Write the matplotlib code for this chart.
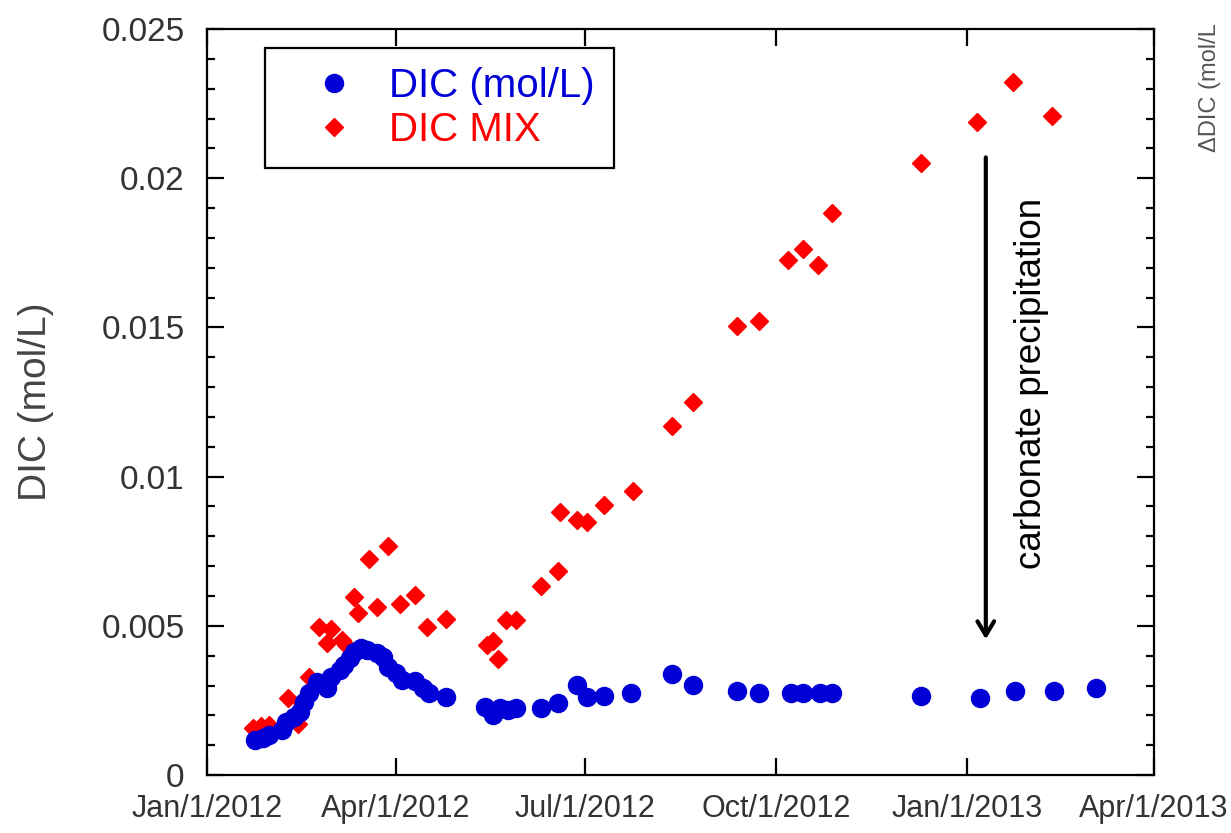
import matplotlib
matplotlib.use("Agg")
import matplotlib.pyplot as plt
import matplotlib.dates as mdates
from matplotlib.ticker import MultipleLocator, FixedLocator
import numpy as np
import pandas as pd

plt.rcParams['font.family'] = ['Liberation Sans', 'DejaVu Sans']

# Measured dissolved inorganic carbon
dic_dates = [
    "2012-01-24", "2012-01-28", "2012-01-31", "2012-02-06", "2012-02-08",
    "2012-02-12", "2012-02-15", "2012-02-17", "2012-02-19", "2012-02-23",
    "2012-02-28", "2012-03-01", "2012-03-05", "2012-03-07", "2012-03-10",
    "2012-03-12", "2012-03-15", "2012-03-18", "2012-03-23", "2012-03-26",
    "2012-03-28", "2012-04-01", "2012-04-04", "2012-04-10", "2012-04-14",
    "2012-04-17", "2012-04-25", "2012-05-14", "2012-05-18", "2012-05-21",
    "2012-05-25", "2012-05-29", "2012-06-10", "2012-06-18", "2012-06-27",
    "2012-07-02", "2012-07-10", "2012-07-23", "2012-08-12", "2012-08-22",
    "2012-09-12", "2012-09-23", "2012-10-08", "2012-10-14", "2012-10-22",
    "2012-10-28", "2012-12-10", "2013-01-07", "2013-01-24", "2013-02-12",
    "2013-03-04",
]
dic_values = [
    0.00117, 0.00124, 0.00134, 0.00151, 0.00178,
    0.00194, 0.00211, 0.00245, 0.00275, 0.00312,
    0.00292, 0.00328, 0.00352, 0.00369, 0.00392,
    0.00412, 0.00426, 0.00419, 0.00409, 0.00395,
    0.00362, 0.00342, 0.00318, 0.00315, 0.00292,
    0.00275, 0.00261, 0.00228, 0.00201, 0.00225,
    0.00218, 0.00225, 0.00225, 0.00241, 0.00302,
    0.00261, 0.00265, 0.00275, 0.00338, 0.00302,
    0.00281, 0.00275, 0.00275, 0.00275, 0.00275,
    0.00275, 0.00265, 0.00258, 0.00281, 0.00281,
    0.00292,
]

# Conservative mixing estimate
mix_dates = [
    "2012-01-23", "2012-01-27", "2012-01-31", "2012-02-06", "2012-02-09",
    "2012-02-14", "2012-02-16", "2012-02-19", "2012-02-24", "2012-02-28",
    "2012-03-01", "2012-03-06", "2012-03-08", "2012-03-12", "2012-03-14",
    "2012-03-19", "2012-03-23", "2012-03-28", "2012-04-03", "2012-04-10",
    "2012-04-16", "2012-04-25", "2012-05-15", "2012-05-18", "2012-05-20",
    "2012-05-24", "2012-05-29", "2012-06-10", "2012-06-18", "2012-06-19",
    "2012-06-27", "2012-07-02", "2012-07-10", "2012-07-24", "2012-08-12",
    "2012-08-22", "2012-09-12", "2012-09-23", "2012-10-07", "2012-10-14",
    "2012-10-21", "2012-10-28", "2012-12-10", "2013-01-06", "2013-01-23",
    "2013-02-11",
]
mix_values = [
    0.00158, 0.00164, 0.00168, 0.00154, 0.00258,
    0.00171, 0.00241, 0.00328, 0.00496, 0.00442,
    0.00489, 0.00452, 0.00436, 0.00597, 0.00543,
    0.00724, 0.00563, 0.00767, 0.00573, 0.00603,
    0.00496, 0.00523, 0.00436, 0.00449, 0.00389,
    0.00519, 0.00519, 0.00633, 0.00684, 0.00881,
    0.00855, 0.00848, 0.00905, 0.00952, 0.01170,
    0.01250, 0.01505, 0.01521, 0.01726, 0.01763,
    0.01709, 0.01883, 0.02051, 0.02188, 0.02322,
    0.02208,
]

x_tick_dates = ["2012-01-01", "2012-04-01", "2012-07-01", "2012-10-01",
                "2013-01-01", "2013-04-01"]
x_tick_labels = ["Jan/1/2012", "Apr/1/2012", "Jul/1/2012", "Oct/1/2012",
                 "Jan/1/2013", "Apr/1/2013"]
y_ticks = [0, 0.005, 0.01, 0.015, 0.02, 0.025]
y_tick_labels = ["0", "0.005", "0.01", "0.015", "0.02", "0.025"]

series_names = ["DIC (mol/L)", "DIC MIX"]
blue = "#0000d6"
red = "#ff0000"
text_gray = "#333333"

fig = plt.figure(figsize=(12.31, 8.33), dpi=100)
ax = fig.add_axes([0.168, 0.0696, 0.7695, 0.8955])

ax.plot(pd.to_datetime(dic_dates), dic_values, linestyle="none",
        marker="o", ms=13, color=blue, mec=blue, label=series_names[0],
        zorder=3)
ax.plot(pd.to_datetime(mix_dates), mix_values, linestyle="none",
        marker="D", ms=9.4, color=red, mec=red, label=series_names[1],
        zorder=2)

ax.set_xlim(pd.Timestamp(x_tick_dates[0]), pd.Timestamp(x_tick_dates[-1]))
ax.set_ylim(y_ticks[0], y_ticks[-1])

ax.xaxis.set_major_locator(FixedLocator(mdates.date2num(pd.to_datetime(x_tick_dates))))
ax.set_xticklabels(x_tick_labels)
ax.set_yticks(y_ticks)
ax.set_yticklabels(y_tick_labels)
ax.yaxis.set_minor_locator(MultipleLocator(0.001))

ax.tick_params(which="both", direction="in", top=True, right=True,
               width=1.6, color="black")
ax.tick_params(which="major", length=12)
ax.tick_params(which="minor", length=5.5)
ax.tick_params(axis="x", labelsize=22, pad=14, labelcolor=text_gray)
ax.tick_params(axis="y", labelsize=24, pad=16, labelcolor=text_gray)
for sp in ax.spines.values():
    sp.set_linewidth(1.6)

ax.set_ylabel("DIC (mol/L)", fontsize=28, color="#444444")
ax.yaxis.set_label_coords(-0.161, 0.5)

leg = ax.legend(loc="upper left", bbox_to_anchor=(0.061, 0.975),
                fontsize=29, frameon=True, fancybox=False, framealpha=1,
                edgecolor="black", borderpad=0.48, handletextpad=0.12,
                labelspacing=0.14, handlelength=2.5, borderaxespad=0)
leg.get_frame().set_linewidth(1.6)
for txt, c in zip(leg.get_texts(), [blue, red]):
    txt.set_color(c)

# Carbonate precipitation arrow and note
ax.annotate("", xy=(pd.Timestamp("2013-01-10"), 0.00455),
            xytext=(pd.Timestamp("2013-01-10"), 0.0207),
            arrowprops=dict(arrowstyle="->, head_length=1.0, head_width=0.6",
                            lw=3, color="black", shrinkA=0, shrinkB=0))
ax.text(pd.Timestamp("2013-02-01"), 0.01314, "carbonate precipitation",
        rotation=90, ha="center", va="center", fontsize=26.5, color="black")

fig.text(1210 / 1231, 1 - 152 / 833, "\u0394DIC (mol/L", rotation=90,
         ha="center", va="bottom", fontsize=17, color="#555555")

fig.savefig("out.png", dpi=100)
